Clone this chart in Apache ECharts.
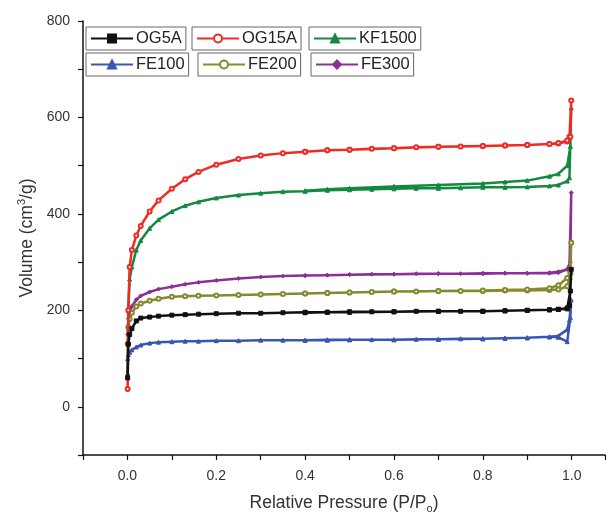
<!DOCTYPE html>
<html>
<head>
<meta charset="utf-8">
<script src="https://cdn.jsdelivr.net/npm/echarts@6/dist/echarts.min.js"></script>
<style>
  html, body { margin: 0; padding: 0; background: #fff; }
  #chart { width: 608px; height: 523px; }
</style>
</head>
<body>
<div id="chart"></div>
<script>
// N2 adsorption / desorption isotherms
const adsP = [0.0005, 0.002, 0.005, 0.01, 0.02, 0.03, 0.05, 0.07, 0.1, 0.13, 0.16, 0.2, 0.25, 0.3, 0.35, 0.4,
  0.45, 0.5, 0.55, 0.6, 0.65, 0.7, 0.75, 0.8, 0.85, 0.9, 0.95, 0.97, 0.99, 0.995, 0.999]
const desP = [0.997, 0.99, 0.97, 0.95, 0.9, 0.85, 0.8, 0.7, 0.6, 0.5, 0.45, 0.4]

const og5aAds = [60, 130, 150, 162, 178, 184, 186, 188, 190, 191, 192, 193, 194, 194, 195, 196, 196, 197, 197, 197, 198, 198, 198, 198, 199, 200, 201, 202, 203, 210, 285]
const og5aDes = [240, 205, 202, 201, 200, 199, 198, 198, 197, 196, 196, 195]

const og15aAds = [37, 200, 290, 325, 355, 375, 405, 428, 452, 472, 487, 502, 514, 521, 526, 529, 532, 533, 535, 536, 538, 539, 540, 541, 542, 543, 545, 546, 550, 560, 635]
const og15aDes = [560, 552, 547, 545, 543, 542, 541, 539, 536, 533, 532, 529]

const kf1500Ads = [69, 200, 265, 290, 325, 345, 370, 388, 405, 417, 425, 433, 439, 443, 446, 447, 449, 450, 451, 452, 453, 453, 454, 455, 455, 456, 458, 460, 468, 475, 620]
const kf1500Des = [540, 500, 483, 478, 469, 466, 463, 460, 457, 453, 451, 448]

const fe100Ads = [100, 108, 113, 118, 124, 128, 132, 134, 135, 136, 136, 137, 137, 138, 138, 138, 139, 139, 139, 139, 140, 140, 141, 141, 142, 143, 145, 147, 160, 180, 222]
const fe100Des = [185, 135, 144, 145, 143, 142, 141, 140, 139, 139, 138, 138]

const fe200Ads = [130, 165, 182, 195, 208, 214, 220, 224, 228, 229, 230, 231, 232, 233, 234, 235, 236, 237, 238, 239, 239, 240, 240, 240, 241, 241, 242, 243, 250, 265, 340]
const fe200Des = [277, 267, 252, 246, 243, 242, 241, 240, 239, 237, 236, 235]

const fe300Ads = [150, 183, 198, 208, 222, 230, 238, 244, 249, 254, 258, 262, 266, 269, 271, 272, 273, 274, 275, 275, 276, 276, 276, 277, 277, 277, 277, 278, 285, 292, 444]
const fe300Des = [300, 285, 280, 278, 277, 277, 276, 276, 275, 274, 273, 272]

const names = ['OG5A', 'OG15A', 'KF1500', 'FE100', 'FE200', 'FE300']
const colors = ['#111111', '#ee2b24', '#12893f', '#3a55b4', '#858a2f', '#8b3096']
const symbols = ['rect', 'emptyCircle', 'triangle', 'triangle', 'emptyCircle', 'diamond']
const adsAll = [og5aAds, og15aAds, kf1500Ads, fe100Ads, fe200Ads, fe300Ads]
const desAll = [og5aDes, og15aDes, kf1500Des, fe100Des, fe200Des, fe300Des]

const font = 'Arial, "Liberation Sans", sans-serif'

const makeData = (ads, des) => {
    const pts = adsP.map((p, i) => [p, ads[i]])
    des.forEach((v, i) => pts.push([desP[i], v]))
    return pts
}

const series = names.map((name, i) => ({
    name: name,
    type: 'line',
    data: makeData(adsAll[i], desAll[i]),
    symbol: symbols[i],
    symbolSize: 4,
    showAllSymbol: true,
    color: colors[i],
    lineStyle: { width: 2.5, color: colors[i] },
    itemStyle: { color: colors[i], borderColor: colors[i], borderWidth: 1 },
    z: 10 - i
}))

// one framed legend per item, two rows
const legendPos = [[86, 27], [192, 27], [309, 27], [86, 53], [198, 53], [311, 53]]
const legends = names.map((name, i) => ({
    data: [name],
    left: legendPos[i][0],
    top: legendPos[i][1],
    orient: 'horizontal',
    itemWidth: 42,
    itemHeight: 10,
    itemGap: 4,
    padding: [3, 4, 3, 4],
    borderColor: '#666',
    borderWidth: 1,
    backgroundColor: '#fff',
    selectedMode: false,
    textStyle: { fontFamily: font, fontSize: 16.5, color: '#222', padding: [0, 0, 0, -2] }
}))

const chart = echarts.init(document.getElementById('chart'))
chart.setOption({
    animation: false,
    legend: legends,
    grid: { left: 83, right: 0, top: 21, bottom: 68, containLabel: false },
    xAxis: {
        type: 'value',
        min: -0.1,
        max: 1.075,
        interval: 0.1,
        name: 'Relative Pressure (P/P{sub|o})',
        nameLocation: 'middle',
        nameGap: 38,
        nameTextStyle: {
            fontFamily: font, fontSize: 17.5, color: '#333',
            rich: { sub: { fontSize: 11, verticalAlign: 'bottom', padding: [10, 0, 0, 0], color: '#333' } }
        },
        axisLine: { onZero: false, lineStyle: { color: '#111', width: 1.5 } },
        axisTick: { length: 5, lineStyle: { color: '#111', width: 1.2 } },
        axisLabel: {
            margin: 14,
            fontFamily: font, fontSize: 14, color: '#333',
            formatter: v => {
                const k = Math.round(v * 10)
                if (k < 0 || k > 10 || k % 2 !== 0) return ''
                return (k / 10).toFixed(1)
            }
        },
        splitLine: { show: false }
    },
    yAxis: {
        type: 'value',
        min: -100,
        max: 800,
        interval: 100,
        name: 'Volume (cm{sup|3}/g)',
        nameLocation: 'middle',
        nameGap: 40,
        nameTextStyle: {
            fontFamily: font, fontSize: 17.5, color: '#333',
            rich: { sup: { fontSize: 11, verticalAlign: 'top', padding: [0, 0, 10, 0], color: '#333' } }
        },
        axisLine: { show: true, onZero: false, lineStyle: { color: '#111', width: 1.5 } },
        axisTick: { show: true, length: 5, lineStyle: { color: '#111', width: 1.2 } },
        axisLabel: {
            margin: 13,
            fontFamily: font, fontSize: 14, color: '#333',
            formatter: v => (v % 200 === 0 ? String(v) : '')
        },
        splitLine: { show: false }
    },
    series: series
})
</script>
</body>
</html>
